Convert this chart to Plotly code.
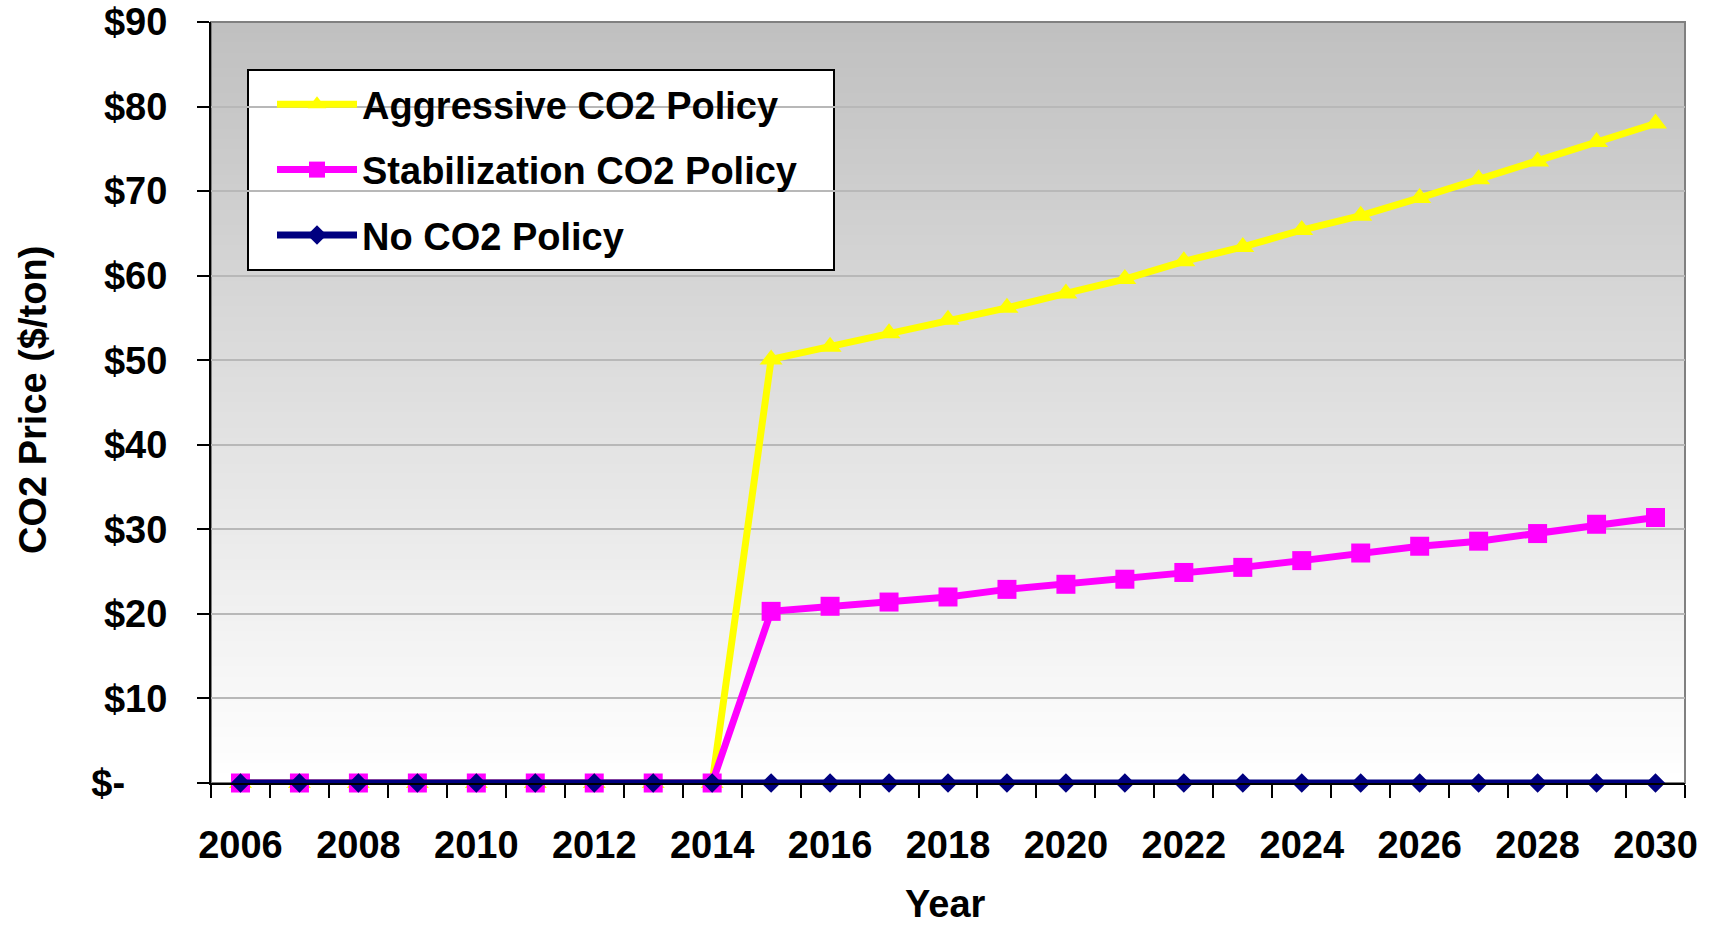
import plotly.graph_objects as go

# CO2 price outlook by policy scenario, $/ton
years = list(range(2006, 2031))
aggressive = [0, 0, 0, 0, 0, 0, 0, 0, 0,
              50.1, 51.6, 53.2, 54.8, 56.2, 57.9, 59.6, 61.7, 63.4,
              65.4, 67.1, 69.2, 71.4, 73.5, 75.8, 78.0]
stabilization = [0, 0, 0, 0, 0, 0, 0, 0, 0,
                 20.3, 20.9, 21.4, 22.0, 22.9, 23.5, 24.1, 24.9, 25.5,
                 26.3, 27.2, 28.0, 28.6, 29.5, 30.6, 31.4]
no_policy = [0] * 25

series_names = ["Aggressive CO2 Policy", "Stabilization CO2 Policy", "No CO2 Policy"]
x_tick_years = list(range(2006, 2031, 2))
x_tick_text = [str(y) for y in x_tick_years]
y_tick_vals = list(range(0, 100, 10))
y_tick_text = ["$-\u2007\u2007"] + [f"${v}" for v in y_tick_vals[1:]]

FONT = "Liberation Sans, Arial, sans-serif"
FS = 38

# plot area in page pixels
L, R, T, B = 211, 1685, 22, 783
PW, PH = R - L, B - T


def px(x):
    return (x - L) / PW


def py(y):
    return (B - y) / PH


fig = go.Figure()

styles = [
    dict(color="#FFFF00", symbol="triangle-up", size=20),
    dict(color="#FF00FF", symbol="square", size=19),
    dict(color="#000080", symbol="diamond", size=15),
]
for name, vals, st in zip(series_names, [aggressive, stabilization, no_policy], styles):
    fig.add_trace(go.Scatter(
        x=years, y=vals, name=name, mode="lines+markers",
        line=dict(color=st["color"], width=7),
        marker=dict(color=st["color"], symbol=st["symbol"], size=st["size"],
                    line=dict(width=0)),
        legendgroup=name, cliponaxis=False,
    ))

# vertical gray-to-white gradient behind the plot area
shapes = []
n_bands = 150
for i in range(n_bands):
    t = i / (n_bands - 1)
    c = round(255 - (255 - 192) * t)
    shapes.append(dict(
        type="rect", xref="paper", yref="paper",
        x0=0, x1=1, y0=i / n_bands, y1=min(1, (i + 1.6) / n_bands),
        fillcolor=f"rgb({c},{c},{c})", line=dict(width=0), layer="below",
    ))
# plot frame
shapes.append(dict(type="rect", xref="paper", yref="paper", x0=0, x1=1, y0=0, y1=1,
                   line=dict(color="#808080", width=2), fillcolor="rgba(0,0,0,0)",
                   layer="between"))
# legend box
shapes.append(dict(type="rect", xref="paper", yref="paper",
                   x0=px(248), x1=px(834), y0=py(270), y1=py(70),
                   line=dict(color="black", width=2), fillcolor="white",
                   layer="between"))

fig.update_layout(
    width=1712, height=927,
    margin=dict(l=L, r=1712 - R, t=T, b=927 - B),
    paper_bgcolor="white",
    plot_bgcolor="rgba(0,0,0,0)",
    font=dict(family=FONT, size=FS, color="black", weight="bold"),
    shapes=shapes,
    showlegend=True,
    legend=dict(
        x=px(272), y=py(73), xanchor="left", yanchor="top",
        bgcolor="rgba(0,0,0,0)", borderwidth=0,
        font=dict(family=FONT, size=FS, color="black", weight="bold"),
        traceorder="grouped", tracegroupgap=13, itemwidth=80,
    ),
    xaxis=dict(
        range=[2005.5, 2030.5], tickmode="array", tickvals=x_tick_years,
        ticktext=x_tick_text, ticks="", showgrid=False, zeroline=False,
        showline=True, linecolor="black", linewidth=2, automargin=False,
        ticklabelstandoff=27,
        minor=dict(tickmode="array", tickvals=[y - 0.5 for y in years] + [2030.5],
                   ticks="outside", ticklen=13, tickwidth=2, tickcolor="black",
                   showgrid=False),
    ),
    yaxis=dict(
        range=[0, 90], tickmode="array", tickvals=y_tick_vals, ticktext=y_tick_text,
        ticks="outside", ticklen=12, tickwidth=2, tickcolor="black",
        showgrid=True, gridcolor="#b8b8b8", gridwidth=2, zeroline=False,
        showline=True, linecolor="black", linewidth=2, automargin=False,
        ticklabelstandoff=22,
    ),
    annotations=[
        dict(text="CO2 Price ($/ton)", xref="paper", yref="paper",
             x=px(33), y=py(400), textangle=-90,
             showarrow=False, xanchor="center", yanchor="middle",
             font=dict(family=FONT, size=FS, color="black", weight="bold")),
        dict(text="Year", xref="paper", yref="paper",
             x=px(945), y=py(904),
             showarrow=False, xanchor="center", yanchor="middle",
             font=dict(family=FONT, size=FS, color="black", weight="bold")),
    ],
)

fig.write_html("out.html")
